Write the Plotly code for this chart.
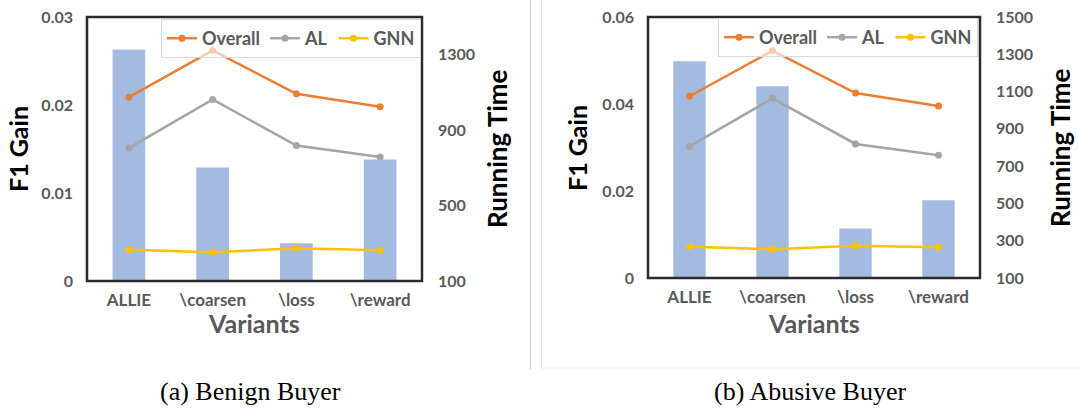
import plotly.graph_objects as go

# ---------------- data ----------------
variants = ["ALLIE", "\\coarsen", "\\loss", "\\reward"]

benign_f1_gain = [0.0263, 0.0129, 0.0043, 0.0138]
benign_overall = [1075, 1323, 1093, 1024]
benign_al = [805, 1063, 818, 757]
benign_gnn = [266, 252, 274, 263]

abusive_f1_gain = [0.0498, 0.0441, 0.0114, 0.0179]
abusive_overall = [1075, 1319, 1092, 1023]
abusive_al = [806, 1064, 819, 758]
abusive_gnn = [268, 254, 273, 265]

series_names = ["Overall", "AL", "GNN"]
captions = ["(a) Benign Buyer", "(b) Abusive Buyer"]

# ---------------- style ----------------
W, H = 1078, 408
BAR = "#A3BAE1"
COLORS = ["#ED7D31", "#A5A5A5", "#FFC000"]
GRAY = "#595959"
BOX = "#2b2b2b"
FONT = "Lato"


def px(x):
    return x / W


def py(y):
    return 1 - y / H


fig = go.Figure()

panels = [
    dict(f1=benign_f1_gain, lines=[benign_overall, benign_al, benign_gnn],
         xa="x", ya="y", ya2="y2", legend="legend"),
    dict(f1=abusive_f1_gain, lines=[abusive_overall, abusive_al, abusive_gnn],
         xa="x2", ya="y3", ya2="y4", legend="legend2"),
]

for p in panels:
    fig.add_trace(go.Bar(x=variants, y=p["f1"], xaxis=p["xa"], yaxis=p["ya"],
                         marker=dict(color=BAR, line=dict(width=0)), width=0.39,
                         showlegend=False))
    for name, vals, col in zip(series_names, p["lines"], COLORS):
        fig.add_trace(go.Scatter(x=variants, y=vals, xaxis=p["xa"], yaxis=p["ya2"],
                                 mode="lines+markers", name=name,
                                 line=dict(color=col, width=2.5),
                                 marker=dict(color=col, size=7),
                                 legend=p["legend"]))

tick_font = dict(family=FONT, size=16, color=GRAY, weight="bold")
xtick_font = dict(family=FONT, size=17, color=GRAY, weight="bold")

common_x = dict(showline=False, showgrid=False, zeroline=False,
                tickfont=xtick_font, ticklabelstandoff=7, fixedrange=True)
common_y = dict(showline=False, showgrid=False, zeroline=False,
                tickfont=tick_font, ticklabelstandoff=13)
common_y2 = dict(showline=False, showgrid=False, zeroline=False,
                 tickfont=tick_font, side="right", ticklabelstandoff=15)

legend_common = dict(orientation="h", bgcolor="rgba(255,255,255,0.6)",
                     bordercolor="#d9d9d9", borderwidth=1,
                     font=dict(family=FONT, size=18, color=GRAY, weight="bold"),
                     itemwidth=30, tracegroupgap=0)

fig.update_layout(
    width=W, height=H,
    margin=dict(l=0, r=0, t=0, b=0, autoexpand=False),
    paper_bgcolor="white", plot_bgcolor="white",
    bargap=0.6,
    xaxis=dict(domain=[px(87), px(422)], anchor="y", **common_x),
    yaxis=dict(domain=[py(281), py(17)], anchor="x", range=[0, 0.03],
               tick0=0, dtick=0.01, **common_y),
    yaxis2=dict(overlaying="y", anchor="x", range=[100, 1500], tick0=100,
                dtick=400, **common_y2),
    xaxis2=dict(domain=[px(648), px(980)], anchor="y3", **common_x),
    yaxis3=dict(domain=[py(278), py(17)], anchor="x2", range=[0, 0.06],
                tick0=0, dtick=0.02, **common_y),
    yaxis4=dict(overlaying="y3", anchor="x2", range=[100, 1500], tick0=100,
                dtick=200, **common_y2),
    legend=dict(x=px(421), xanchor="right", y=py(19), yanchor="top",
                **legend_common),
    legend2=dict(x=px(978), xanchor="right", y=py(18), yanchor="top",
                 **legend_common),
)

# plot frames (drawn as shapes on the axis domains)
for xr, yr in [("x domain", "y domain"), ("x2 domain", "y3 domain")]:
    fig.add_shape(type="rect", xref=xr, yref=yr, x0=0, x1=1, y0=0, y1=1,
                  line=dict(color=BOX, width=2.5), layer="above")

# axis titles / captions as annotations
title_font = dict(family=FONT, size=25, color="black", weight="bold")
rt_font = dict(family=FONT, size=26, color="black", weight="bold")
var_font = dict(family=FONT, size=25, color=GRAY, weight="bold")
cap_font = dict(family="Liberation Serif", size=26, color="black")

annots = [
    ("F1 Gain", 18, 149, -90, title_font),
    ("Running Time", 497, 149, -90, rt_font),
    ("F1 Gain", 577, 148, -90, title_font),
    ("Running Time", 1060, 148, -90, rt_font),
    ("Variants", 254, 323, 0, var_font),
    ("Variants", 814, 323, 0, var_font),
    (captions[0], 250, 391, 0, cap_font),
    (captions[1], 810, 391, 0, cap_font),
]
for text, x, y, ang, f in annots:
    fig.add_annotation(text=text, x=px(x), y=py(y), xref="paper", yref="paper",
                       xanchor="center", yanchor="middle", textangle=ang,
                       showarrow=False, font=f)

# divider and right panel frame
fig.add_shape(type="line", xref="paper", yref="paper",
              x0=px(530.5), x1=px(530.5), y0=py(0), y1=py(369),
              line=dict(color="#c4c4c4", width=1))
fig.add_shape(type="rect", xref="paper", yref="paper",
              x0=px(541.5), x1=px(1080), y0=py(368), y1=py(-2),
              line=dict(color="#e6e6e6", width=1))

fig.write_html("out.html",
               config={"displayModeBar": False},
               post_script="document.body.style.margin='0';"
                           "document.body.style.overflow='hidden';")
